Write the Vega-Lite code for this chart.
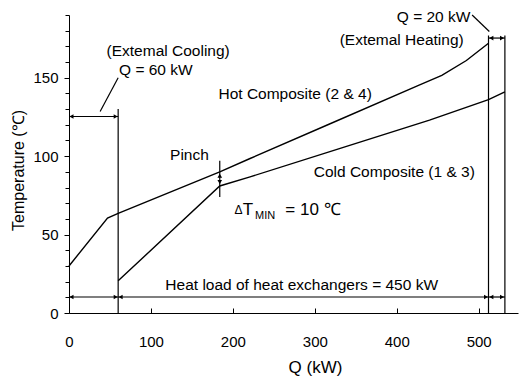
{
  "$schema": "https://vega.github.io/schema/vega-lite/v6.json",
  "width": 449,
  "height": 298,
  "autosize": {"type": "none"},
  "padding": {"left": 69, "top": 15, "right": 1, "bottom": 63},
  "background": "white",
  "config": {
    "view": {"stroke": null},
    "font": "Liberation Sans",
    "axis": {"grid": false, "domainColor": "#000", "tickColor": "#000", "labelColor": "#000", "titleColor": "#000", "labelFont": "Liberation Sans", "titleFont": "Liberation Sans", "titleFontWeight": "normal"}
  },
  "resolve": {"axis": {"y": "independent"}},
  "datasets": {
    "curves": [
      {"series": "Hot", "q": 0, "t": 30},
      {"series": "Hot", "q": 47, "t": 60.5},
      {"series": "Hot", "q": 60, "t": 63.5},
      {"series": "Hot", "q": 184, "t": 90},
      {"series": "Hot", "q": 221, "t": 98.5},
      {"series": "Hot", "q": 318, "t": 120.5},
      {"series": "Hot", "q": 428, "t": 145.5},
      {"series": "Hot", "q": 455, "t": 151.5},
      {"series": "Hot", "q": 485, "t": 161},
      {"series": "Hot", "q": 512, "t": 172},
      {"series": "Cold", "q": 60, "t": 20.5},
      {"series": "Cold", "q": 184, "t": 81},
      {"series": "Cold", "q": 221, "t": 86.8},
      {"series": "Cold", "q": 330, "t": 104.8},
      {"series": "Cold", "q": 440, "t": 123},
      {"series": "Cold", "q": 512, "t": 136},
      {"series": "Cold", "q": 532, "t": 141}
    ],
    "segs": [
      {"q": 60, "t": 0, "q2": 60, "t2": 130},
      {"q": 512, "t": 0, "q2": 512, "t2": 177},
      {"q": 532, "t": 0, "q2": 532, "t2": 177},
      {"q": 0, "t": 10.2, "q2": 60, "t2": 10.2},
      {"q": 60, "t": 10.2, "q2": 512, "t2": 10.2},
      {"q": 512, "t": 10.2, "q2": 532, "t2": 10.2},
      {"q": 0, "t": 125.3, "q2": 60, "t2": 125.3},
      {"q": 512, "t": 175.3, "q2": 532, "t2": 175.3},
      {"q": 60, "t": 150, "q2": 38, "t2": 128.5},
      {"q": 492, "t": 190, "q2": 513, "t2": 179.5},
      {"q": 184, "t": 97, "q2": 184, "t2": 74}
    ],
    "heads": [
      {"q": 3, "t": 10.2, "dir": "left"},
      {"q": 57, "t": 10.2, "dir": "right"},
      {"q": 63, "t": 10.2, "dir": "left"},
      {"q": 509, "t": 10.2, "dir": "right"},
      {"q": 515.5, "t": 10.2, "dir": "left"},
      {"q": 528.5, "t": 10.2, "dir": "right"},
      {"q": 3, "t": 125.3, "dir": "left"},
      {"q": 57, "t": 125.3, "dir": "right"},
      {"q": 515.5, "t": 175.3, "dir": "left"},
      {"q": 528.5, "t": 175.3, "dir": "right"},
      {"q": 184, "t": 87.5, "dir": "up"},
      {"q": 184, "t": 83.5, "dir": "down"}
    ],
    "labels": [
      {"q": 121, "t": 167, "text": "(Extemal Cooling)"},
      {"q": 106, "t": 155, "text": "Q = 60 kW"},
      {"q": 276, "t": 139.8, "text": "Hot Composite (2 & 4)"},
      {"q": 397, "t": 90, "text": "Cold Composite (1 & 3)"},
      {"q": 147, "t": 100.5, "text": "Pinch"},
      {"q": 284, "t": 17.9, "text": "Heat load of heat exchangers = 450 kW"},
      {"q": 406, "t": 174, "text": "(Extemal Heating)"},
      {"q": 445, "t": 189, "text": "Q = 20 kW"}
    ],
    "dtDelta": [
      {"q": 202, "t": 65.7, "text": "Δ"}
    ],
    "dtBig": [
      {"q": 212, "t": 65.7, "text": "T"},
      {"q": 264, "t": 65.7, "text": "= 10 ℃"}
    ],
    "dtSub": [
      {"q": 227, "t": 62, "text": "MIN"}
    ]
  },
  "layer": [
    {
      "data": {"name": "curves"},
      "mark": {"type": "line", "color": "#000", "strokeWidth": 1.4},
      "encoding": {
        "x": {"field": "q", "type": "quantitative", "scale": {"domain": [0, 548], "nice": false, "zero": false},
          "axis": {"title": "Q (kW)", "values": [0, 100, 200, 300, 400, 500], "tickSize": -5, "labelFontSize": 15, "titleFontSize": 17, "labelPadding": 26, "titleX": 246, "titleY": 54, "titleBaseline": "middle", "titleAlign": "center", "labelFlush": false, "labelOverlap": false}},
        "y": {"field": "t", "type": "quantitative", "scale": {"domain": [0, 190], "nice": false},
          "axis": {"orient": "left", "title": "Temperature (℃)", "values": [0, 50, 100, 150], "tickSize": 5, "labelFontSize": 15, "titleFontSize": 16, "labelPadding": 6, "titleX": -51, "titleY": 155, "titleAngle": -90, "titleAlign": "center", "titleBaseline": "middle", "labelFlush": false, "labelOverlap": false}},
        "detail": {"field": "series"},
        "order": {"field": "q", "type": "quantitative"}
      }
    },
    {
      "data": {"name": "segs"},
      "mark": {"type": "rule", "color": "#000", "strokeWidth": 1.2},
      "encoding": {
        "x": {"field": "q", "type": "quantitative"},
        "y": {"field": "t", "type": "quantitative",
          "axis": {"orient": "left", "title": null, "labels": false, "domain": false, "values": [10, 20, 30, 40, 60, 70, 80, 90, 110, 120, 130, 140, 160, 170, 180, 190], "tickSize": 4}},
        "x2": {"field": "q2"},
        "y2": {"field": "t2"}
      }
    },
    {
      "data": {"name": "heads"},
      "mark": {"type": "point", "filled": true, "color": "#000", "size": 22, "opacity": 1},
      "encoding": {
        "x": {"field": "q", "type": "quantitative"},
        "y": {"field": "t", "type": "quantitative", "axis": null},
        "shape": {"field": "dir", "type": "nominal", "legend": null,
          "scale": {"domain": ["left", "right", "up", "down"], "range": ["triangle-left", "triangle-right", "triangle-up", "triangle-down"]}}
      }
    },
    {
      "data": {"name": "labels"},
      "mark": {"type": "text", "fontSize": 15.5, "color": "#000", "align": "center", "baseline": "middle"},
      "encoding": {
        "x": {"field": "q", "type": "quantitative"},
        "y": {"field": "t", "type": "quantitative", "axis": null},
        "text": {"field": "text"}
      }
    },
    {
      "data": {"name": "dtDelta"},
      "mark": {"type": "text", "fontSize": 12, "color": "#000", "align": "left", "baseline": "middle"},
      "encoding": {
        "x": {"field": "q", "type": "quantitative"},
        "y": {"field": "t", "type": "quantitative", "axis": null},
        "text": {"field": "text"}
      }
    },
    {
      "data": {"name": "dtBig"},
      "mark": {"type": "text", "fontSize": 17, "color": "#000", "align": "left", "baseline": "middle"},
      "encoding": {
        "x": {"field": "q", "type": "quantitative"},
        "y": {"field": "t", "type": "quantitative", "axis": null},
        "text": {"field": "text"}
      }
    },
    {
      "data": {"name": "dtSub"},
      "mark": {"type": "text", "fontSize": 11, "color": "#000", "align": "left", "baseline": "middle"},
      "encoding": {
        "x": {"field": "q", "type": "quantitative"},
        "y": {"field": "t", "type": "quantitative", "axis": null},
        "text": {"field": "text"}
      }
    }
  ]
}
